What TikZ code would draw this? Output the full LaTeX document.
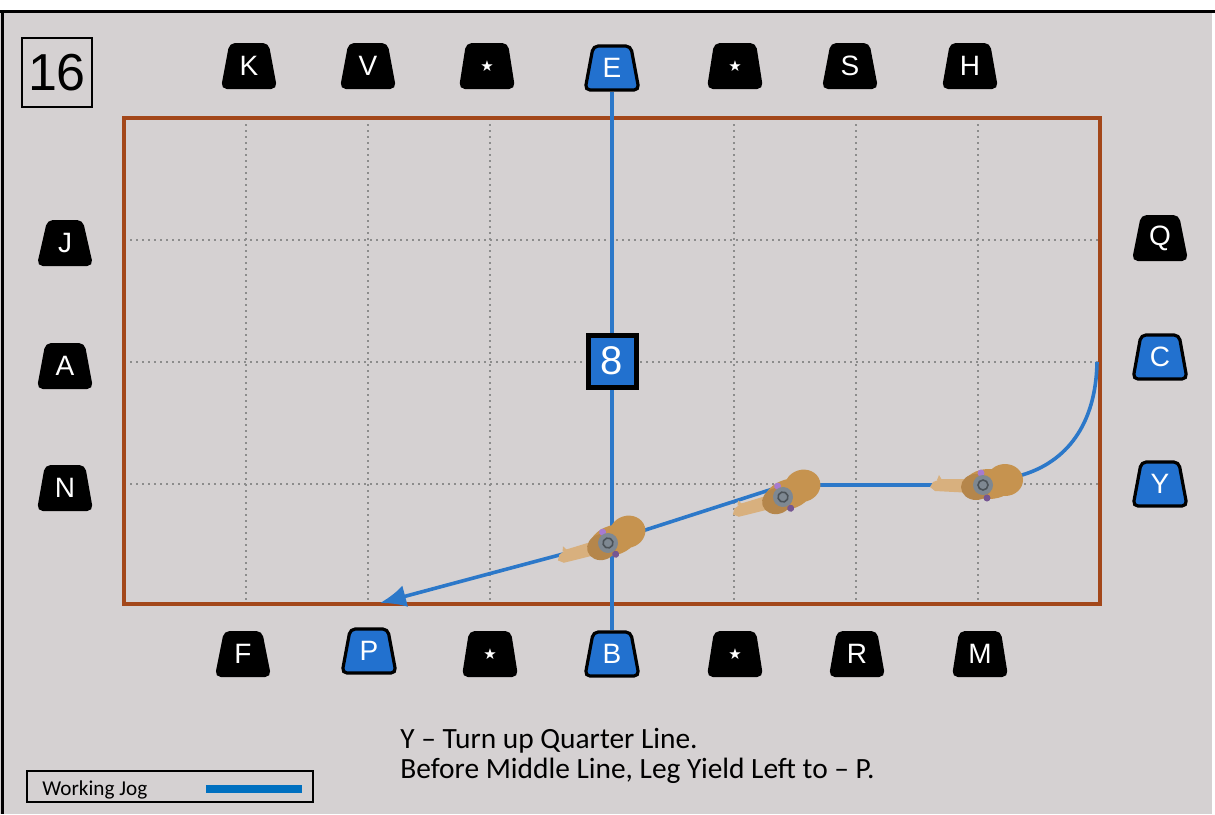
\documentclass[tikz,border=0pt]{standalone}
\usepackage{fontspec}
\setmainfont{Carlito}
\newfontfamily\arialfont{Liberation Sans}
\newfontfamily\symbolfont{DejaVu Sans}
\usetikzlibrary{shapes.geometric,arrows.meta}

\definecolor{paper}{HTML}{D5D1D2}
\definecolor{arena}{HTML}{A3471A}
\definecolor{markblue}{HTML}{2271CF}
\definecolor{jogblue}{HTML}{2C78C9}
\definecolor{legendblue}{HTML}{0070C0}
\definecolor{coat}{HTML}{C6934F}
\definecolor{coatlight}{HTML}{D8B07E}
\definecolor{coatdark}{HTML}{B5864B}
\definecolor{ridergray}{HTML}{7E8892}
\definecolor{riderpurple}{HTML}{A77BD0}

\newcommand{\mstar}{{\symbolfont\fontsize{7.5}{7.5}\selectfont ★}}

% horse and rider seen from above, head to the left
\tikzset{
  horse/.pic={
    \fill[coat] (6,-1) ellipse [x radius=24, y radius=15];
    \fill[coat] (22,-5) ellipse [x radius=18, y radius=16];
    \fill[coatlight] (-10,-6) -- (-42,-6) -- (-50,-3) -- (-53,2) -- (-48,6) -- (-10,8) -- cycle;
    \fill[coatlight] (-46,-5) -- (-44,-10) -- (-41,-5) -- cycle;
    \fill[coatdark] (-7,2) ellipse [x radius=15, y radius=13];
    \fill[riderpurple] (-2,-12) circle (3.5);
    \fill[riderpurple!70!black] (4,13) circle (3.5);
    \fill[ridergray] (0,0) circle (10);
    \draw[ridergray!60!black, line width=0.8pt] (0,0) circle (5);
  }
}

\begin{document}
\begin{tikzpicture}[x=0.5pt, y=-0.5pt,
    marker/.style={trapezium, trapezium angle=78, trapezium stretches=true,
      minimum width=27pt, minimum height=22pt, inner sep=0pt, rounded corners=2.5pt,
      fill=black, draw=black, line width=1pt, text=white,
      font=\arialfont\fontsize{14}{14}\selectfont},
    bluemarker/.style={marker, fill=markblue, line width=1.6pt},
    gridline/.style={draw=black!45, line width=1pt, dash pattern=on 1pt off 2pt},
    jog/.style={draw=jogblue, line width=1.8pt}]

    \useasboundingbox (0,0) rectangle (1215,814);
    % Page
    \fill[white] (0,0) rectangle (1215,814);
    \fill[paper] (0,11) rectangle (1212,814);
    \draw[line width=1.5pt] (0,11) -- (1215,11);
    \draw[line width=1.5pt] (2,11) -- (2,814);

    % Arena
    \foreach \x in {246,368,490,612,734,856,978}
        \draw[gridline] (\x,118) -- (\x,604);
    \foreach \y in {240,362,484}
        \draw[gridline] (124,\y) -- (1100,\y);
    \draw[arena, line width=2pt] (124,118) rectangle (1100,604);

    % Test number
    \node[draw, line width=1.3pt, minimum width=35pt, minimum height=34.5pt, inner sep=0pt,
        font=\arialfont\fontsize{26}{26}\selectfont] (test) at (57,72.5) {16};

    % Letters
    \foreach \nm/\lbl/\x in {K/K/249, V/V/368, s1/\mstar/487, s2/\mstar/735, S/S/850, H/H/970}
        \node[marker] (m\nm) at (\x,66) {\lbl};
    \node[bluemarker] (mE) at (612,68) {E};
    \foreach \nm/\lbl/\x in {F/F/243, s3/\mstar/490, s4/\mstar/735, R/R/857, M/M/980}
        \node[marker] (m\nm) at (\x,654) {\lbl};
    \node[bluemarker] (mP) at (369,651) {P};
    \node[bluemarker] (mB) at (612,654) {B};
    \foreach \lbl/\y in {J/243, A/366, N/488}
        \node[marker] (m\lbl) at (65,\y) {\lbl};
    \node[marker] (mQ) at (1160,238) {Q};
    \node[bluemarker] (mC) at (1160,357) {C};
    \node[bluemarker] (mY) at (1160,484) {Y};

    % Movement
    \coordinate (turn) at (1097,362);
    \coordinate (h3) at (983,485);
    \coordinate (h2) at (785,489);
    \coordinate (h1) at (608,542);
    \coordinate (pend) at (380,603);
    \draw[jog, line width=2pt] (mE.south) -- (mB.north);
    \draw[jog] (turn) .. controls (1096,425) and (1066,462) .. (1022,475) -- (h3) -- (h2 |- h3) -- (h1);
    \draw[jog, -{Latex[length=13pt,width=11pt]}] (h1) -- (pend);
    \node[draw=black, line width=2.5pt, fill=markblue, minimum width=24pt, minimum height=26pt,
        inner sep=0pt, text=white, font=\arialfont\fontsize{20}{20}\selectfont] (move) at (612,361) {8};

    % Horses
    \pic (horseC) at (h3) {horse};
    \pic[rotate=17] (horseB) at (783,497) {horse};
    \pic[rotate=17] (horseA) at (608,543) {horse};

    % Text
    \node[anchor=base west, inner sep=0pt, font=\fontsize{14.7}{15}\selectfont] (line1) at (400,748) {Y – Turn up Quarter Line.};
    \node[anchor=base west, inner sep=0pt, font=\fontsize{14.7}{15}\selectfont] (line2) at (400,778) {Before Middle Line, Leg Yield Left to – P.};

    % Legend
    \node[draw, line width=1pt, minimum width=143pt, minimum height=15.5pt, inner sep=0pt] (legend) at (170,786.5) {};
    \node[anchor=base west, inner sep=0pt, font=\fontsize{10.6}{10.6}\selectfont] (legendtext) at (42,795) {Working Jog};
    \draw[legendblue, line width=3.6pt] (206,789) -- (302,789);
\end{tikzpicture}
\end{document}
